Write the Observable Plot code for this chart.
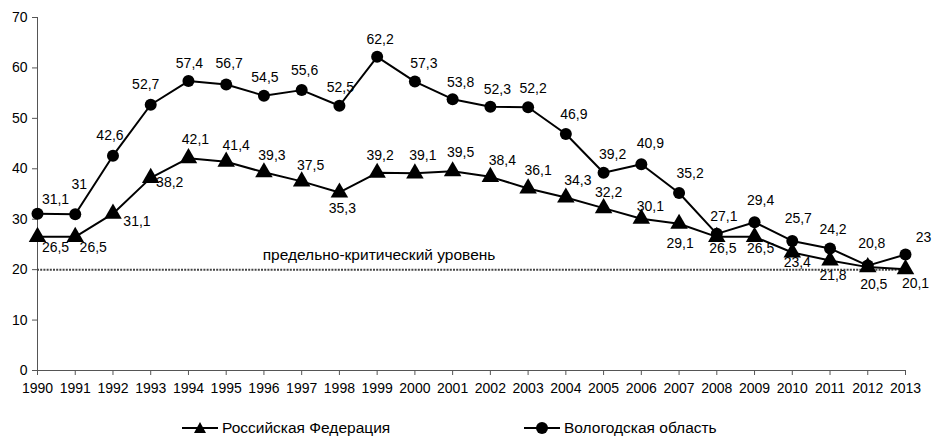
<!DOCTYPE html>
<html>
<head>
<meta charset="utf-8">
<script src="https://cdn.jsdelivr.net/npm/d3@7"></script>
<script src="https://cdn.jsdelivr.net/npm/@observablehq/plot@0.6"></script>
<style>
  html, body { margin: 0; padding: 0; background: #fff; }
  body { width: 933px; height: 437px; overflow: hidden; font-family: "Liberation Sans", Arial, sans-serif; }
  #legend { position: relative; height: 27px; font-size: 15.5px; color: #000; }
  .item { position: absolute; top: 8px; display: flex; align-items: center; }
  .item svg { margin-right: 4px; }
</style>
</head>
<body>
<div id="chart"></div>
<div id="legend"></div>
<script>
// ---- data ----
const years = [1990,1991,1992,1993,1994,1995,1996,1997,1998,1999,2000,2001,2002,2003,2004,2005,2006,2007,2008,2009,2010,2011,2012,2013];
const russia = [26.5,26.5,31.1,38.2,42.1,41.4,39.3,37.5,35.3,39.2,39.1,39.5,38.4,36.1,34.3,32.2,30.1,29.1,26.5,26.5,23.4,21.8,20.5,20.1];
const vologda = [31.1,31,42.6,52.7,57.4,56.7,54.5,55.6,52.5,62.2,57.3,53.8,52.3,52.2,46.9,39.2,40.9,35.2,27.1,29.4,25.7,24.2,20.8,23];
const seriesNames = ["Российская Федерация", "Вологодская область"];
const criticalLevel = 20;
const criticalLabel = "предельно-критический уровень";
const yTicks = [0,10,20,30,40,50,60,70];

// ---- label placement (pixels) ----
const volDx = [18,4,-3,-5,1,3,1,3,1,3,9,8,7,5,8,9,9,11,7,6,6,3,4,18];
const volDy = [-14,-30,-20,-20,-18,-21,-18,-20,-18,-17,-18,-17,-17,-19,-19,-18,-21,-19,-17,-22,-22,-19,-22,-17];
const rfDx = [18,18,24,19,7,10,8,9,3,3,8,8,12,10,12,5,9,1,6,6,5,3,6,10];
const rfDy = [11,11,8,5,-19,-16,-17,-16,16,-17,-18,-19,-16,-18,-17,-16,-12,20,12,12,10,15,17,14];

const rfData = years.map((y, i) => ({year: y, value: russia[i]}));
const volData = years.map((y, i) => ({year: y, value: vologda[i]}));
const fmt = v => String(v).replace(".", ",");

const font = "'Liberation Sans', Arial, sans-serif";

const labelMarks = [
  ...volData.map((d, i) => Plot.text([d], {x: "year", y: "value", text: d => fmt(d.value), dx: volDx[i], dy: volDy[i], fontSize: 14, fill: "#000"})),
  ...rfData.map((d, i) => Plot.text([d], {x: "year", y: "value", text: d => fmt(d.value), dx: rfDx[i], dy: rfDy[i], fontSize: 14, fill: "#000"}))
];

const chart = Plot.plot({
  width: 933,
  height: 410,
  marginLeft: 37,
  marginRight: 28,
  marginTop: 17,
  marginBottom: 40,
  style: {fontFamily: font, fontSize: "14px", color: "#000", background: "#fff"},
  x: {type: "linear", domain: [years[0], years[years.length - 1]]},
  y: {domain: [0, 70]},
  marks: [
    Plot.axisX({ticks: years, tickFormat: d => String(d), tickSize: 5, tickPadding: 8, stroke: "#555", fontSize: 14, label: null}),
    Plot.axisY({ticks: yTicks, tickSize: 5, tickPadding: 5, stroke: "#555", fontSize: 14, label: null}),
    Plot.ruleY([0], {stroke: "#555", strokeWidth: 1}),
    Plot.ruleX([years[0]], {stroke: "#555", strokeWidth: 1}),
    Plot.ruleY([criticalLevel], {x1: years[0], x2: years[years.length - 1], stroke: "#444", strokeWidth: 2, strokeDasharray: "2,1.2"}),
    Plot.text([criticalLabel], {x: 1999.05, y: 22.9, text: d => d, fontSize: 15.5, fill: "#000"}),
    Plot.line(rfData, {x: "year", y: "value", stroke: "#000", strokeWidth: 2}),
    Plot.line(volData, {x: "year", y: "value", stroke: "#000", strokeWidth: 2}),
    Plot.dot(rfData, {x: "year", y: "value", symbol: "triangle", r: 6.5, fill: "#000", stroke: "none"}),
    Plot.dot(volData, {x: "year", y: "value", symbol: "circle", r: 6, fill: "#000", stroke: "none"}),
    ...labelMarks
  ]
});
document.getElementById("chart").appendChild(chart);

// ---- legend ----
const legend = document.getElementById("legend");
const symbols = ["triangle", "circle"];
const lefts = [182, 524];
seriesNames.forEach((name, i) => {
  const item = document.createElement("div");
  item.className = "item";
  item.style.left = lefts[i] + "px";
  const sym = symbols[i] === "triangle"
    ? '<path d="M18,4 L24,15 L12,15 Z" fill="#000"/>'
    : '<circle cx="18" cy="10" r="6" fill="#000"/>';
  item.innerHTML = '<svg width="36" height="20"><line x1="0" x2="36" y1="10" y2="10" stroke="#000" stroke-width="2"/>' + sym + '</svg><span>' + name + '</span>';
  legend.appendChild(item);
});
</script>
</body>
</html>
